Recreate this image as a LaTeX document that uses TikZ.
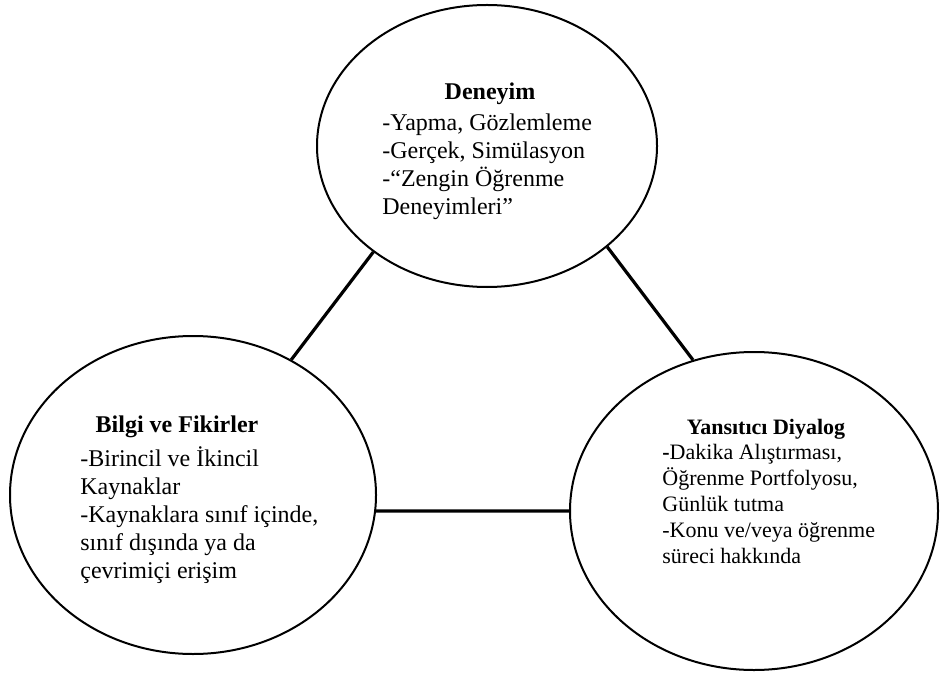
\documentclass[tikz,border=0pt]{standalone}
\usepackage{fontspec}
\setmainfont{Liberation Serif}
\usetikzlibrary{shapes.geometric}

\begin{document}
\begin{tikzpicture}[x=0.5pt, y=-0.5pt,
  blob/.style={draw, ellipse, line width=1pt, inner sep=0pt},
  link/.style={line width=1.6pt},
  head/.style={inner sep=0pt, font=\fontsize{12}{14}\selectfont\bfseries},
  body/.style={inner sep=0pt, align=left, font=\fontsize{12}{14}\selectfont}]
  \useasboundingbox (0,0) rectangle (940,673);

  % the three circles
  \node[blob, minimum width=170pt, minimum height=141pt] (D) at (487,146) {};
  \node[blob, minimum width=183pt, minimum height=159pt] (B) at (193,495) {};
  \node[blob, minimum width=184pt, minimum height=159pt] (Y) at (754,511) {};

  % links
  \draw[link] (D.223.4) -- (B.54.9);
  \draw[link] (D.320)   -- (Y.112.1);
  \draw[link] (B.-5)    -- (Y.west);

  % texts
  \node[head, anchor=base] (Dh) at (490,100) {Deneyim};
  \node[body, anchor=north west] (Dt) at (382,113)
    {-Yapma, Gözlemleme\\-Gerçek, Simülasyon\\-“Zengin Öğrenme\\Deneyimleri”};

  \node[head, anchor=base] (Bh) at (177,432) {Bilgi ve Fikirler};
  \node[body, anchor=north west] (Bt) at (80,446)
    {-Birincil ve İkincil\\Kaynaklar\\-Kaynaklara sınıf içinde,\\sınıf dışında ya da\\çevrimiçi erişim};

  \node[head, anchor=base, font=\fontsize{11}{13}\selectfont\bfseries] (Yh) at (766,434) {Yansıtıcı Diyalog};
  \node[body, anchor=north west, font=\fontsize{11}{13}\selectfont] (Yt) at (662,444)
    {\textbf{-}Dakika Alıştırması,\\Öğrenme Portfolyosu,\\Günlük tutma\\-Konu ve/veya öğrenme\\süreci hakkında};
\end{tikzpicture}
\end{document}
